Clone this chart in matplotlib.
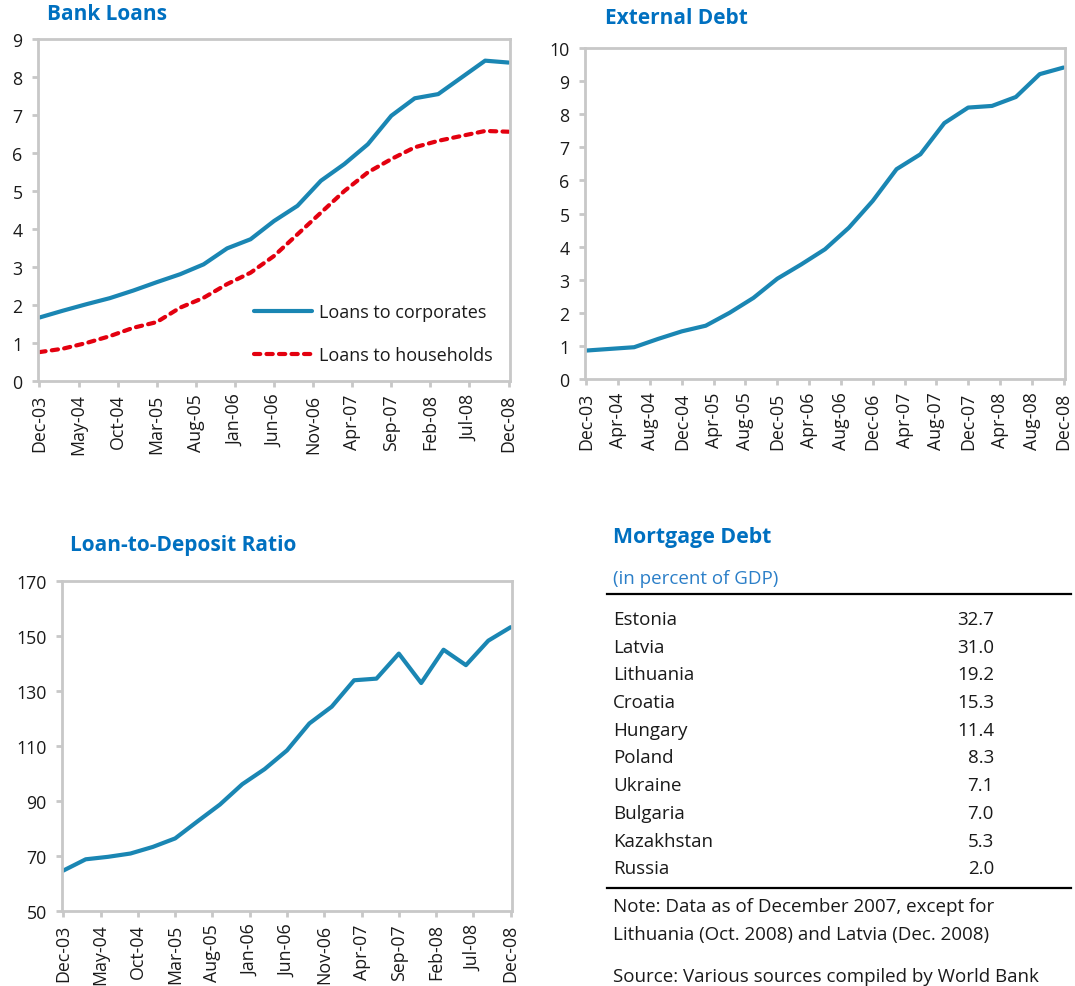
import matplotlib
matplotlib.use("Agg")
import matplotlib.pyplot as plt
from matplotlib.lines import Line2D

plt.rcParams['font.family'] = ['Open Sans', 'DejaVu Sans']

# ---------------- data ----------------
quarters = list(range(21))  # Dec-03 ... Dec-08, quarterly (index = quarter number)

bank_ticks_labels = ["Dec-03", "May-04", "Oct-04", "Mar-05", "Aug-05", "Jan-06", "Jun-06",
                     "Nov-06", "Apr-07", "Sep-07", "Feb-08", "Jul-08", "Dec-08"]
loans_corporates = [1.67, 1.85, 2.02, 2.18, 2.38, 2.6, 2.81, 3.07, 3.49, 3.73, 4.21,
                    4.61, 5.27, 5.71, 6.23, 6.98, 7.44, 7.55, 7.99, 8.43, 8.38]
loans_households = [0.76, 0.85, 1.0, 1.18, 1.4, 1.55, 1.93, 2.19, 2.55, 2.85, 3.29,
                    3.86, 4.43, 5.0, 5.49, 5.84, 6.15, 6.32, 6.45, 6.58, 6.56]

ext_ticks_labels = ["Dec-03", "Apr-04", "Aug-04", "Dec-04", "Apr-05", "Aug-05", "Dec-05",
                    "Apr-06", "Aug-06", "Dec-06", "Apr-07", "Aug-07", "Dec-07", "Apr-08",
                    "Aug-08", "Dec-08"]
external_debt = [0.86, 0.91, 0.96, 1.21, 1.44, 1.61, 2.0, 2.45, 3.03, 3.46, 3.92,
                 4.57, 5.38, 6.34, 6.79, 7.73, 8.2, 8.25, 8.52, 9.21, 9.41]

ltd_ticks_labels = bank_ticks_labels
loan_to_deposit = [64.7, 68.8, 69.7, 70.9, 73.3, 76.4, 82.6, 88.7, 96.1, 101.6, 108.4,
                   118.2, 124.3, 133.9, 134.5, 143.6, 132.9, 145.0, 139.4, 148.3, 153.2]

mortgage_countries = ["Estonia", "Latvia", "Lithuania", "Croatia", "Hungary", "Poland",
                      "Ukraine", "Bulgaria", "Kazakhstan", "Russia"]
mortgage_values = [32.7, 31.0, 19.2, 15.3, 11.4, 8.3, 7.1, 7.0, 5.3, 2.0]

# ---------------- style ----------------
W, H = 1075, 987
BLUE_LINE = "#1A86B3"
RED = "#E3000F"
TITLE_BLUE = "#0070C0"
SPINE = "#C8C8C8"
TXT = "#1a1a1a"
FS = 12.8
FS_TAB = 13.5

fig = plt.figure(figsize=(W / 100, H / 100), dpi=100)


def fx(x):
    return x / W


def fy(y):
    return 1 - y / H


def make_axes(left, top, right, bottom):
    return fig.add_axes([fx(left), fy(bottom), (right - left) / W, (bottom - top) / H])


def style(ax, ylim, yticks, xlabels, months_step):
    ax.set_ylim(*ylim)
    ax.set_yticks(yticks)
    xt = [i * months_step / 3 for i in range(len(xlabels))]
    ax.set_xticks(xt)
    ax.set_xticklabels(xlabels, rotation=90, fontsize=FS, color=TXT)
    ax.set_xlim(-0.06, 20.06)
    for s in ax.spines.values():
        s.set_color(SPINE)
        s.set_linewidth(2.0)
    ax.tick_params(axis='both', color=SPINE, width=2.0, length=4, labelsize=FS,
                   labelcolor=TXT)
    ax.tick_params(axis='y', pad=7)
    ax.tick_params(axis='x', pad=5)


# Bank Loans
ax1 = make_axes(38, 40, 510, 382)
ax1.plot(quarters, loans_corporates, color=BLUE_LINE, lw=3.0, solid_capstyle='round',
         solid_joinstyle='round', label="Loans to corporates")
ax1.plot(quarters, loans_households, color=RED, lw=3.0, linestyle=(0, (1.5, 1.5)),
         dash_capstyle='round', label="Loans to households")
style(ax1, (0, 9), range(0, 10), bank_ticks_labels, 5)
leg = ax1.legend(loc='upper left', bbox_to_anchor=((254 - 38) / 472, (382 - 304) / 342),
                 frameon=False, borderpad=0, borderaxespad=0, handlelength=3.2,
                 handletextpad=0.4, labelspacing=1.4, fontsize=13)
for t in leg.get_texts():
    t.set_color(TXT)
fig.text(fx(47), fy(15), "Bank Loans", color=TITLE_BLUE, fontsize=15,
         fontweight='bold', va='center', ha='left')

# External Debt
ax2 = make_axes(585, 49, 1065, 380)
ax2.plot(quarters, external_debt, color=BLUE_LINE, lw=3.0, solid_capstyle='round',
         solid_joinstyle='round')
style(ax2, (0, 10), range(0, 11), ext_ticks_labels, 4)
fig.text(fx(605), fy(18), "External Debt", color=TITLE_BLUE, fontsize=15,
         fontweight='bold', va='center', ha='left')

# Loan-to-Deposit Ratio
ax3 = make_axes(62, 582, 512, 912)
ax3.plot(quarters, loan_to_deposit, color=BLUE_LINE, lw=3.0, solid_capstyle='round',
         solid_joinstyle='round')
style(ax3, (50, 170), range(50, 171, 20), ltd_ticks_labels, 5)
fig.text(fx(70), fy(546), "Loan-to-Deposit Ratio", color=TITLE_BLUE, fontsize=15,
         fontweight='bold', va='center', ha='left')

# Mortgage Debt table
fig.text(fx(613), fy(538), "Mortgage Debt", color=TITLE_BLUE, fontsize=15.3,
         fontweight='bold', va='center', ha='left')
fig.text(fx(613), fy(579), "(in percent of GDP)", color="#2B7FC8", fontsize=FS_TAB,
         va='center', ha='left')
fig.add_artist(Line2D([fx(607), fx(1071)], [fy(595), fy(595)], color='black', lw=1.6))
row0, row_step = 620, 27.7
for i, (c, v) in enumerate(zip(mortgage_countries, mortgage_values)):
    y = row0 + i * row_step
    fig.text(fx(613), fy(y), c, color=TXT, fontsize=FS_TAB, va='center', ha='left')
    fig.text(fx(994), fy(y), f"{v:.1f}", color=TXT, fontsize=FS_TAB, va='center',
             ha='right')
fig.add_artist(Line2D([fx(607), fx(1071)], [fy(889), fy(889)], color='black', lw=1.6))
fig.text(fx(613), fy(907), "Note: Data as of December 2007, except for", color=TXT,
         fontsize=FS_TAB, va='center', ha='left')
fig.text(fx(613), fy(935), "Lithuania (Oct. 2008) and Latvia (Dec. 2008)", color=TXT,
         fontsize=FS_TAB, va='center', ha='left')
fig.text(fx(613), fy(977), "Source: Various sources compiled by World Bank", color=TXT,
         fontsize=FS_TAB, va='center', ha='left')

fig.savefig("out.png", dpi=100, facecolor='white')
